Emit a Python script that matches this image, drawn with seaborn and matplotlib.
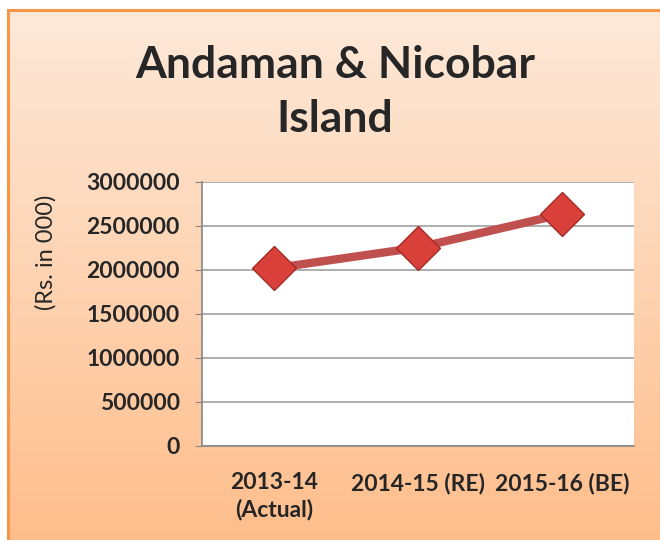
import numpy as np
import pandas as pd
import matplotlib
matplotlib.use("Agg")
import matplotlib.pyplot as plt
import seaborn as sns
from matplotlib.patches import Rectangle

# chart data
periods = ["2013-14\n(Actual)", "2014-15 (RE)", "2015-16 (BE)"]
amounts = [2020000, 2255000, 2635000]
yticks = [0, 500000, 1000000, 1500000, 2000000, 2500000, 3000000]

df = pd.DataFrame({"period": periods, "amount": amounts})

sns.set_style("white")
plt.rcParams["font.family"] = ["Lato", "DejaVu Sans"]

fig = plt.figure(figsize=(6.6, 5.4), dpi=100)

# peach gradient background with orange frame
bg = fig.add_axes([0, 0, 1, 1], zorder=-10)
grad = np.linspace(0, 1, 256).reshape(-1, 1)
top = np.array([253, 233, 217]) / 255
bot = np.array([255, 190, 140]) / 255
img = top + (bot - top) * grad[:, :, None]
bg.imshow(img, aspect="auto", extent=[8 / 660, 1, 0, 1 - 10 / 540])
bg.add_patch(Rectangle((8 / 660, -0.01), 1.2, 1 - 10 / 540 + 0.01,
                       fill=False, edgecolor="#f79646", linewidth=2.2))
bg.set_xlim(0, 1)
bg.set_ylim(0, 1)
bg.axis("off")

ax = fig.add_axes([202 / 660, 1 - 446 / 540, 432 / 660, 264 / 540])
ax.set_facecolor("white")

sns.lineplot(data=df, x="period", y="amount", ax=ax, color="#c0504d",
             linewidth=6, marker="D", markersize=22,
             markerfacecolor="#d9403a", markeredgecolor="#a52a24",
             markeredgewidth=1, sort=False, zorder=5)

ax.set_xlim(-0.5, 2.5)
ax.set_ylim(0, 3000000)
ax.set_yticks(yticks)
ax.set_yticklabels([str(v) for v in yticks], fontsize=16.5, fontweight="bold")
ax.set_xticks(range(len(periods)))
ax.set_xticklabels(periods, fontsize=16.5, fontweight="bold", linespacing=1.3)
ax.set_xticks([-0.5, 0.5, 1.5, 2.5], minor=True)
ax.tick_params(axis="x", which="major", length=0, pad=19)
ax.tick_params(axis="x", which="minor", length=5, color="#868686", direction="out")
ax.tick_params(axis="y", length=5, color="#868686", direction="out", pad=11, left=True)
for lab in ax.get_xticklabels():
    lab.set_verticalalignment("top")

ax.yaxis.grid(True, color="#a0a0a0", linewidth=1.2)
ax.set_axisbelow(True)
for side in ["top", "right"]:
    ax.spines[side].set_visible(False)
for side in ["left", "bottom"]:
    ax.spines[side].set_color("#868686")
    ax.spines[side].set_linewidth(1.2)

ax.set_xlabel("")
ax.set_ylabel("(Rs. in 000)", fontsize=17)
ax.yaxis.set_label_coords(-0.336, 0.735)

fig.text(335 / 660, 1 - 92 / 540, "Andaman & Nicobar\nIsland", ha="center", va="center",
         fontsize=32, fontweight="bold", linespacing=1.45)

fig.savefig("out.png", dpi=100)
